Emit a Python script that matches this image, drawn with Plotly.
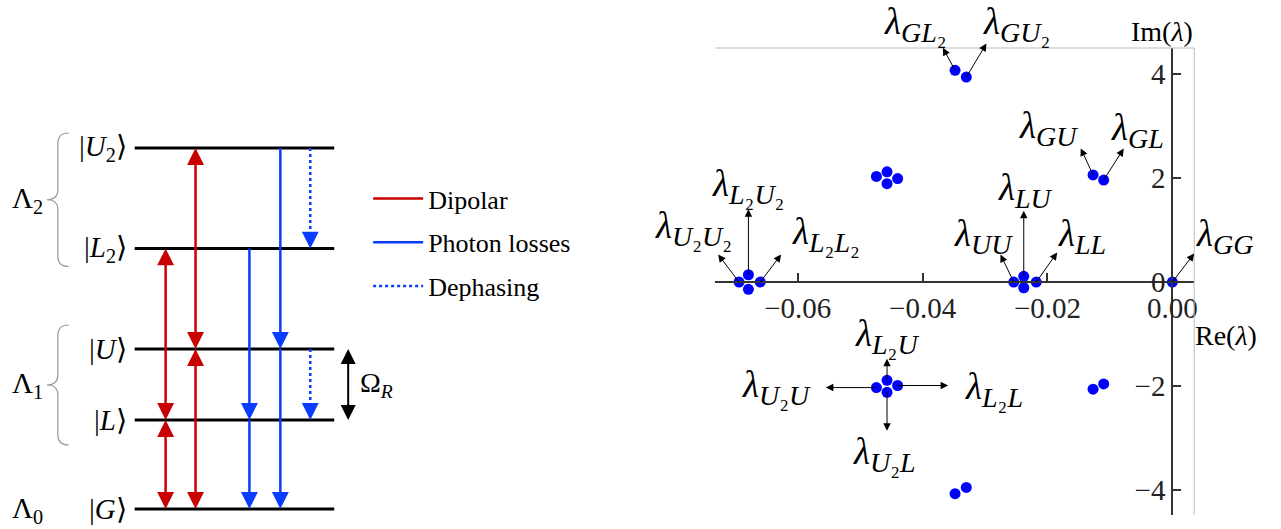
import plotly.graph_objects as go

# ---------------- data ----------------
# Left panel: schematic energy levels (arbitrary units)
level_names = ["G", "L", "U", "L2", "U2"]
level_energy = [0.0, 0.89, 1.60, 2.605, 3.61]
level_labels = ["|<i>G</i>⟩", "|<i>L</i>⟩", "|<i>U</i>⟩",
                "|<i>L</i><sub>2</sub>⟩", "|<i>U</i><sub>2</sub>⟩"]

# transitions (from, to)
dipolar = [("G", "L"), ("L", "L2"), ("G", "U"), ("U", "U2")]
photon_losses = [("L2", "L"), ("L", "G"), ("U2", "U"), ("U", "G")]
dephasing = [("U2", "L2"), ("U", "L")]

manifold_names = ["Λ<sub>0</sub>", "Λ<sub>1</sub>", "Λ<sub>2</sub>"]
manifold_members = [["G"], ["L", "U"], ["L2", "U2"]]

legend_names = ["Dipolar", "Photon losses", "Dephasing"]

# Right panel: Liouvillian eigenvalues
eig_re = [0.0,
          -0.0254, -0.0238, -0.0238, -0.0218,
          -0.0694, -0.0679, -0.0679, -0.0660,
          -0.0474, -0.0457, -0.0457, -0.0440,
          -0.0474, -0.0457, -0.0457, -0.0440,
          -0.0127, -0.0110, -0.0127, -0.0110,
          -0.0348, -0.0330, -0.0348, -0.0330]
eig_im = [0.0,
          0.0, 0.11, -0.11, 0.0,
          0.0, 0.14, -0.14, 0.0,
          -2.03, -1.89, -2.12, -1.99,
          2.03, 2.12, 1.89, 1.99,
          2.06, 1.96, -2.06, -1.96,
          4.07, 3.94, -4.07, -3.95]

# eigenvalue labels: (index into eig arrays, subscript)
eig_labels = [
    (0, "<i>GG</i>"), (1, "<i>UU</i>"), (2, "<i>LU</i>"), (4, "<i>LL</i>"),
    (5, "<i>U</i>₂<i>U</i>₂"), (6, "<i>L</i>₂<i>U</i>₂"), (8, "<i>L</i>₂<i>L</i>₂"),
    (9, "<i>U</i>₂<i>U</i>"), (12, "<i>L</i>₂<i>L</i>"), (10, "<i>L</i>₂<i>U</i>"), (11, "<i>U</i>₂<i>L</i>"),
    (17, "<i>GU</i>"), (18, "<i>GL</i>"), (21, "<i>GL</i>₂"), (22, "<i>GU</i>₂"),
]

# ---------------- style ----------------
W, H = 1281, 529
SERIF = "Liberation Serif, Times New Roman, serif"
RED = "#c80000"
BLUE = "#0a3cff"
DOT_BLUE = "#0000ff"

E = dict(zip(level_names, level_energy))

fig = go.Figure()

# ---- left panel geometry (x2 in px-like units) ----
LX0, LX1 = 135, 335
col_dip = {"L": 166, "U": 196}
col_ph = {"L": 250, "U": 281}
col_deph = 311
col_omega = 349
HEAD_PX = 17
PX_PER_E = 100.0
inset = 0.07


def col_for(pair, table):
    a, b = pair
    for s in (a, b):
        if s in table:
            return table[s]
    for s in (a, b):
        if s.rstrip("2") in table:
            return table[s.rstrip("2")]
    return list(table.values())[0]


annotations = []


def head(x, y, down, color, width=2.5, size=1.35):
    annotations.append(dict(
        x=x, y=y, xref="x2", yref="y2", ax=0, ay=(-HEAD_PX if down else HEAD_PX),
        text="", showarrow=True, arrowhead=2, arrowsize=size, arrowwidth=width,
        arrowcolor=color, standoff=0))


# levels
for n in level_names:
    fig.add_trace(go.Scatter(x=[LX0, LX1], y=[E[n], E[n]], mode="lines",
                             line=dict(color="black", width=3), xaxis="x2", yaxis="y2",
                             showlegend=False, hoverinfo="skip"))

# transitions
groups = [(dipolar, RED, "solid", legend_names[0], "dip"),
          (photon_losses, BLUE, "solid", legend_names[1], "ph"),
          (dephasing, BLUE, "dot", legend_names[2], "deph")]
for gi, (trans, color, dash, name, kind) in enumerate(groups):
    for ti, (a, b) in enumerate(trans):
        if kind == "dip":
            x = col_for((a, b), col_dip)
        elif kind == "ph":
            x = col_for((a, b), col_ph)
        else:
            x = col_deph
        ya, yb = E[a], E[b]
        sgn = 1 if yb > ya else -1
        y_start = ya + sgn * inset if kind == "dip" else ya
        y_end = yb - sgn * inset
        fig.add_trace(go.Scatter(x=[x, x], y=[y_start, y_end], mode="lines",
                                 line=dict(color=color, width=2.5, dash=dash),
                                 xaxis="x2", yaxis="y2", name=name,
                                 legendgroup=kind, showlegend=(ti == 0),
                                 legendrank=gi + 1, hoverinfo="skip"))
        head(x, yb, yb < ya, color)
        if kind == "dip":
            head(x, ya, ya < yb, color)

# Omega_R double arrow
fig.add_trace(go.Scatter(x=[col_omega, col_omega], y=[E["L"] + inset, E["U"] - inset], mode="lines",
                         line=dict(color="black", width=2), xaxis="x2", yaxis="y2",
                         showlegend=False, hoverinfo="skip"))
head(col_omega, E["U"], False, "black", width=2, size=1.5)
head(col_omega, E["L"], True, "black", width=2, size=1.5)
annotations.append(dict(x=359, y=(E["L"] + E["U"]) / 2, xref="x2", yref="y2",
                        text="Ω<sub><i>R</i></sub>", showarrow=False, xanchor="left",
                        font=dict(family=SERIF, size=28, color="black")))

# level labels
for n, lab in zip(level_names, level_labels):
    annotations.append(dict(x=129, y=E[n], xref="x2", yref="y2", text=lab, showarrow=False,
                            xanchor="right", yanchor="middle",
                            font=dict(family=SERIF, size=29, color="black")))

# manifolds + braces
shapes = []
brace_pad = {1: (0.25, 0.24), 2: (0.18, 0.15)}
for mi, (mname, members) in enumerate(zip(manifold_names, manifold_members)):
    es = [E[m] for m in members]
    if len(members) > 1:
        y0 = min(es) - brace_pad[mi][0]
        y1 = max(es) + brace_pad[mi][1]
        ym = (y0 + y1) / 2
        xe, xs, xt = 69, 58, 47
        r = 0.1
        path = (f"M{xe},{y1} Q{xs},{y1} {xs},{y1 - r} L{xs},{ym + r} Q{xs},{ym} {xt},{ym} "
                f"Q{xs},{ym} {xs},{ym - r} L{xs},{y0 + r} Q{xs},{y0} {xe},{y0}")
        shapes.append(dict(type="path", path=path, xref="x2", yref="y2",
                           line=dict(color="#9a9a9a", width=1.2)))
        ylab = ym
    else:
        ylab = es[0] - 0.01
    annotations.append(dict(x=28, y=ylab, xref="x2", yref="y2", text=mname, showarrow=False,
                            xanchor="center", yanchor="middle",
                            font=dict(family=SERIF, size=29, color="black")))

# ---- right panel ----
fig.add_trace(go.Scatter(x=eig_re, y=eig_im, mode="markers",
                         marker=dict(color=DOT_BLUE, size=11, line=dict(width=0)),
                         xaxis="x", yaxis="y", showlegend=False, hoverinfo="skip"))

# label offsets in px: (head dx, head dy, text dx, text dy)
label_offsets = {
    0: (23, -30, 52, -46),
    1: (-14, -29, -30, -46),
    2: (0, -67, 2, -86),
    4: (22, -31, 46, -46),
    5: (-22, -29, -46, -54),
    6: (0, -67, 0, -88),
    8: (22, -29, 66, -48),
    9: (-52, 0, -100, 0),
    12: (52, 0, 96, 4),
    10: (0, -23, 0, -44),
    11: (0, 40, -3, 62),
    17: (-13, -28, -45, -46),
    18: (21, -33, 34, -50),
    21: (-13, -24, -40, -46),
    22: (21, -35, 50, -53),
}
for idx, sub in eig_labels:
    hdx, hdy, tdx, tdy = label_offsets[idx]
    annotations.append(dict(x=eig_re[idx], y=eig_im[idx], xref="x", yref="y",
                            ax=hdx, ay=hdy, text="", showarrow=True, arrowside="start",
                            arrowhead=2, arrowsize=1.5, arrowwidth=1, arrowcolor="black",
                            standoff=0, startstandoff=0, startarrowhead=2, startarrowsize=1.5))
    annotations.append(dict(x=eig_re[idx], y=eig_im[idx], xref="x", yref="y",
                            xshift=tdx, yshift=-tdy,
                            text="<i>λ</i><sub><span style='font-size:28px'>" + sub + "</span></sub>",
                            showarrow=False, xanchor="center", yanchor="middle",
                            font=dict(family=SERIF, size=37, color="black")))

# axis titles
annotations.append(dict(x=1198 / W, y=1 - 31 / H, xref="paper", yref="paper", text="Im(<i>λ</i>)",
                        showarrow=False, xanchor="right", yanchor="middle",
                        font=dict(family=SERIF, size=28, color="black")))
annotations.append(dict(x=1196 / W, y=1 - 335 / H, xref="paper", yref="paper", text="Re(<i>λ</i>)",
                        showarrow=False, xanchor="left", yanchor="middle",
                        font=dict(family=SERIF, size=28, color="black")))

# grey top/right frame
shapes.append(dict(type="line", xref="x domain", yref="y domain", x0=0, x1=1, y0=1, y1=1,
                   line=dict(color="#bdbdbd", width=1)))
shapes.append(dict(type="line", xref="x domain", yref="y domain", x0=1, x1=1, y0=0, y1=1,
                   line=dict(color="#bdbdbd", width=1)))

axis_common = dict(showgrid=False, zeroline=False, showline=True, linecolor="#333333", linewidth=2,
                   ticks="inside", ticklen=8, tickwidth=1.5, tickcolor="#333333",
                   tickfont=dict(family=SERIF, size=29, color="#222222"), anchor="free")

fig.update_layout(
    width=W, height=H, margin=dict(l=0, r=0, t=0, b=0),
    paper_bgcolor="white", plot_bgcolor="white",
    xaxis=dict(domain=[717 / W, 1197 / W], range=[-0.0732, 0.0035], position=1 - 282 / H,
               tickvals=[-0.06, -0.04, -0.02, 0.0], tickformat=".2f", **axis_common),
    yaxis=dict(domain=[1 - 515 / H, 1 - 48 / H], range=[-4.48, 4.5], position=1175 / W,
               tickvals=[-4, -2, 0, 2, 4], **axis_common),
    xaxis2=dict(domain=[0, 628 / W], range=[0, 628], visible=False, anchor="y2"),
    yaxis2=dict(domain=[0, 1], range=[(509 - H) / PX_PER_E, 509 / PX_PER_E], visible=False, anchor="x2"),
    showlegend=True,
    legend=dict(x=369 / W, y=1 - 175 / H, xanchor="left", yanchor="top",
                font=dict(family=SERIF, size=26, color="black"), bgcolor="rgba(0,0,0,0)",
                itemwidth=50, tracegroupgap=7, traceorder="grouped"),
    annotations=annotations, shapes=shapes,
)

fig.write_html("out.html")
